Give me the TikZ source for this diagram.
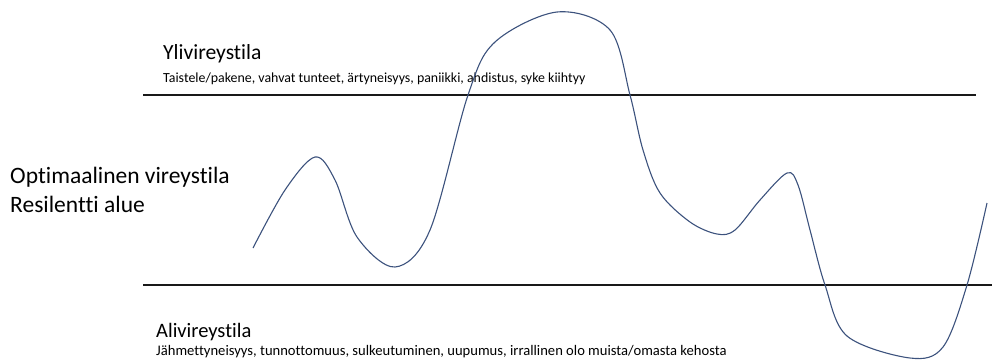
\documentclass[tikz,border=0pt]{standalone}
\usepackage{fontspec}
\setmainfont{Carlito}[Ligatures=NoCommon]
\usetikzlibrary{positioning}
\definecolor{curveblue}{RGB}{60,82,125}
\tikzset{>=latex}
\tikzset{
  zoneline/.style={line width=2.8pt, black!90},
  title/.style={anchor=base west, inner sep=0pt},
  detail/.style={anchor=base west, inner sep=0pt},
  sidetext/.style={anchor=base west, inner sep=0pt, font=\fontsize{23.5}{29}\selectfont},
  wave/.style={curveblue, line width=1.1pt}
}

\begin{document}
\begin{tikzpicture}[x=1pt,y=-1pt]
  \useasboundingbox (0,0) rectangle (992,360);
  % zone limits
  \coordinate (hiL) at (143,95);
  \coordinate (hiR) at (976,95);
  \coordinate (loL) at (143,285);
  \coordinate (loR) at (992,285);
  \draw[zoneline] (hiL) -- (hiR);
  \draw[zoneline] (loL) -- (loR);
  % labels
  \node[title, font=\fontsize{21.6}{26}\selectfont] (yli) at (163,59) {Ylivireystila};
  \node[detail, font=\fontsize{13.9}{16}\selectfont] (ylitxt) at (163,82) {Taistele/pakene, vahvat tunteet, ärtyneisyys, paniikki, ahdistus, syke kiihtyy};
  \node[sidetext] (opt) at (10,183) {Optimaalinen vireystila};
  \node[sidetext] (res) at (10,212) {Resilentti alue};
  \node[title, font=\fontsize{20.5}{24}\selectfont] (ali) at (156,337) {Alivireystila};
  \node[detail, font=\fontsize{14.6}{17}\selectfont] (alitxt) at (156,355) {Jähmettyneisyys, tunnottomuus, sulkeutuminen, uupumus, irrallinen olo muista/omasta kehosta};
  % arousal curve
  \draw[wave] plot[smooth, tension=0.55] coordinates {
    (253,248) (285,190) (315,157) (335,180) (357,237) (395,267)
    (430,230) (468,95) (495,42) (557,12) (610,30) (630,95)
    (643,150) (660,193) (690,222) (717,234) (735,230) (760,200)
    (787,173) (798,185) (810,230) (825,285) (847,336) (910,358)
    (943,347) (967,285) (987,203)
  };
\end{tikzpicture}
\end{document}
